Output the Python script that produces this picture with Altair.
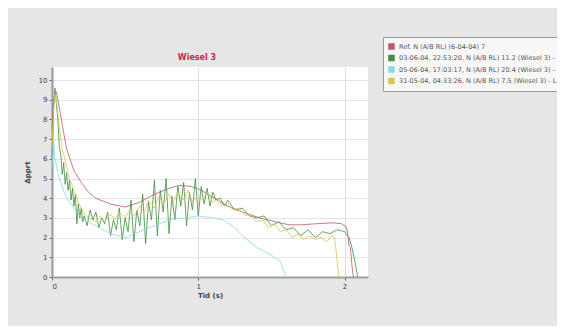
import altair as alt
import pandas as pd

series_names = [
    "Ref. N (A/B RL) (6-04-04) 7",
    "03-06-04, 22:53:20, N (A/B RL) 11.2 (Wiesel 3) - Lauf",
    "05-06-04, 17:03:17, N (A/B RL) 20.4 (Wiesel 3) - Lauf",
    "31-05-04, 04:33:26, N (A/B RL) 7.5 (Wiesel 3) - Lauf",
]
series_colors = ["#c05868", "#3f8f3f", "#8ad8e8", "#d8c850"]

ref_t = [0, 0.01, 0.02, 0.03, 0.05, 0.08, 0.1, 0.15, 0.2, 0.25, 0.3, 0.4, 0.5, 0.6, 0.7, 0.8, 0.87,
         0.95, 1.02, 1.1, 1.2, 1.3, 1.42, 1.5, 1.62, 1.7, 1.8, 1.92, 1.98, 2.01, 2.02, 2.03, 2.04, 2.05, 2.06]
ref_v = [7.5, 8.8, 9.3, 9.4, 8.6, 7.3, 6.5, 5.4, 4.8, 4.3, 4.0, 3.7, 3.55, 3.8, 4.2, 4.5, 4.65,
         4.6, 4.4, 4.05, 3.6, 3.3, 3.0, 2.85, 2.65, 2.65, 2.7, 2.75, 2.7, 2.55, 2.3, 1.6, 1.5, 0.6, 0.0]

green_t = [0.0, 0.01, 0.02, 0.03, 0.04, 0.05, 0.06, 0.07, 0.08, 0.09, 0.10, 0.11, 0.12, 0.13, 0.14,
           0.15, 0.16, 0.17, 0.18, 0.19, 0.20, 0.21, 0.22, 0.24, 0.26, 0.28, 0.30, 0.32, 0.34, 0.36,
           0.38, 0.40, 0.42, 0.44, 0.46, 0.48, 0.50, 0.52, 0.54, 0.56, 0.58, 0.60, 0.62, 0.64, 0.66,
           0.68, 0.70, 0.72, 0.74, 0.76, 0.78, 0.80, 0.82, 0.84, 0.86, 0.88, 0.90, 0.92, 0.94, 0.96,
           0.98, 1.00, 1.02, 1.04, 1.06, 1.08, 1.10, 1.12, 1.15, 1.18, 1.20, 1.25, 1.30, 1.35, 1.40,
           1.45, 1.50, 1.55, 1.60, 1.65, 1.70, 1.75, 1.80, 1.85, 1.90, 1.95, 2.00, 2.03, 2.05, 2.07, 2.09]
green_v = [6.0, 8.5, 9.6, 8.8, 8.0, 6.6, 6.2, 5.2, 5.8, 4.7, 5.3, 4.4, 4.9, 3.9, 4.5,
           3.6, 4.2, 2.7, 3.7, 3.0, 3.5, 2.8, 3.1, 2.6, 3.4, 2.9, 3.3, 2.5, 3.0, 2.7,
           3.3, 2.1, 2.9, 2.4, 3.5, 1.9, 3.0, 2.3, 3.9, 1.8, 3.4, 2.6, 4.2, 1.7, 3.8,
           2.9, 4.9, 2.1, 4.4, 3.3, 5.0, 2.2, 4.1, 2.9, 4.6, 3.6, 4.8, 2.6, 4.3, 3.4,
           5.0, 3.1, 4.6, 3.7, 4.5, 3.6, 4.3, 3.9, 4.0, 3.6, 3.9, 3.4, 3.5, 3.1, 3.0,
           3.1, 2.6, 2.8, 2.4, 2.5, 2.1, 2.4, 2.0, 2.3, 2.2, 2.4, 2.3, 2.0, 1.5, 0.8, 0.0]

cyan_t = [0.0, 0.01, 0.02, 0.05, 0.1, 0.2, 0.3, 0.4, 0.5, 0.6, 0.7, 0.8, 0.9, 1.0, 1.1, 1.17,
          1.25, 1.3, 1.4, 1.5, 1.56, 1.6]
cyan_v = [5.5, 7.0, 6.0, 5.0, 4.0, 3.0, 2.6, 2.2, 2.0, 2.3, 2.6, 2.9, 3.0, 3.1, 3.0, 2.9,
          2.5, 2.1, 1.5, 1.1, 0.8, 0.0]

yellow_t = [0.0, 0.01, 0.02, 0.03, 0.05, 0.07, 0.1, 0.12, 0.15, 0.18, 0.2, 0.22, 0.25, 0.28, 0.3,
            0.33, 0.36, 0.4, 0.43, 0.46, 0.5, 0.53, 0.56, 0.6, 0.63, 0.66, 0.7, 0.73, 0.76, 0.8,
            0.83, 0.86, 0.9, 0.93, 0.96, 1.0, 1.03, 1.06, 1.1, 1.13, 1.16, 1.2, 1.24, 1.28, 1.32,
            1.36, 1.4, 1.44, 1.48, 1.52, 1.56, 1.6, 1.64, 1.68, 1.72, 1.76, 1.8, 1.84, 1.88, 1.91,
            1.93, 1.94, 1.95, 1.96]
yellow_v = [6.5, 8.5, 9.3, 9.0, 7.6, 6.5, 5.6, 5.0, 4.4, 3.8, 3.5, 3.2, 3.0, 2.9, 2.8,
            3.1, 2.8, 3.2, 2.9, 3.3, 3.0, 3.4, 3.1, 3.6, 3.3, 3.9, 3.5, 4.1, 3.7, 4.2,
            3.8, 4.3, 3.9, 4.4, 3.8, 4.2, 3.9, 4.3, 3.8, 4.0, 3.6, 3.7, 3.4, 3.5, 3.1,
            3.2, 2.8, 2.9, 2.5, 2.7, 2.3, 2.4, 2.0, 2.2, 1.9, 2.1, 1.9, 2.0, 1.8, 2.1,
            2.0, 1.5, 0.7, 0.0]

x_ticks = [0, 1, 2]
y_ticks = list(range(0, 11))

rows = []
for name, ts, vs in zip(series_names, [ref_t, green_t, cyan_t, yellow_t],
                        [ref_v, green_v, cyan_v, yellow_v]):
    for i, (t, v) in enumerate(zip(ts, vs)):
        rows.append({"serie": name, "t": t, "v": v, "i": i})
df = pd.DataFrame(rows)

chart = alt.Chart(df).mark_line(strokeWidth=1, opacity=0.8).encode(
    x=alt.X("t:Q", title="Tid (s)",
            scale=alt.Scale(domain=[0, 2.16], nice=False),
            axis=alt.Axis(values=x_ticks, format="d", labelFontSize=7, titleFontSize=7,
                          tickSize=3, gridColor="#dcdcdc", labelColor="#444",
                          titleColor="#444", domainColor="#9aa0a8", domainWidth=2,
                          tickColor="#666", titlePadding=2)),
    y=alt.Y("v:Q", title="Δpprt",
            scale=alt.Scale(domain=[0, 10.66], nice=False),
            axis=alt.Axis(values=y_ticks, labelFontSize=7, titleFontSize=7,
                          tickSize=3, gridColor="#e4e4e4", labelColor="#444",
                          titleColor="#444", domainColor="#8a9aa8", domainWidth=2,
                          tickColor="#666", titlePadding=8)),
    color=alt.Color("serie:N", sort=series_names,
                    scale=alt.Scale(domain=series_names, range=series_colors),
                    legend=alt.Legend(title=None, orient="none", legendX=331, legendY=-30,
                                      symbolType="square", symbolSize=9,
                                      symbolStrokeWidth=3.5, symbolOpacity=1,
                                      labelFontSize=6.5, clipHeight=9,
                                      labelColor="#555", rowPadding=2.5, padding=5,
                                      fillColor="#f7f7f7", strokeColor="#999",
                                      labelLimit=400)),
    order="i:Q",
    detail="serie:N",
).properties(
    width=316, height=210,
    title=alt.TitleParams("Wiesel 3", color="#d0204a", fontSize=8, fontWeight="bold",
                          dx=-13, dy=31, offset=6),
    autosize=alt.AutoSizeParams(type="none"),
    padding={"left": 44, "top": 59, "right": 189, "bottom": 49},
).configure(
    background="#e6e6e6",
    font="DejaVu Sans",
).configure_view(fill="white", stroke=None)

chart.save("out.html", embed_options={"renderer": "svg", "actions": False})
